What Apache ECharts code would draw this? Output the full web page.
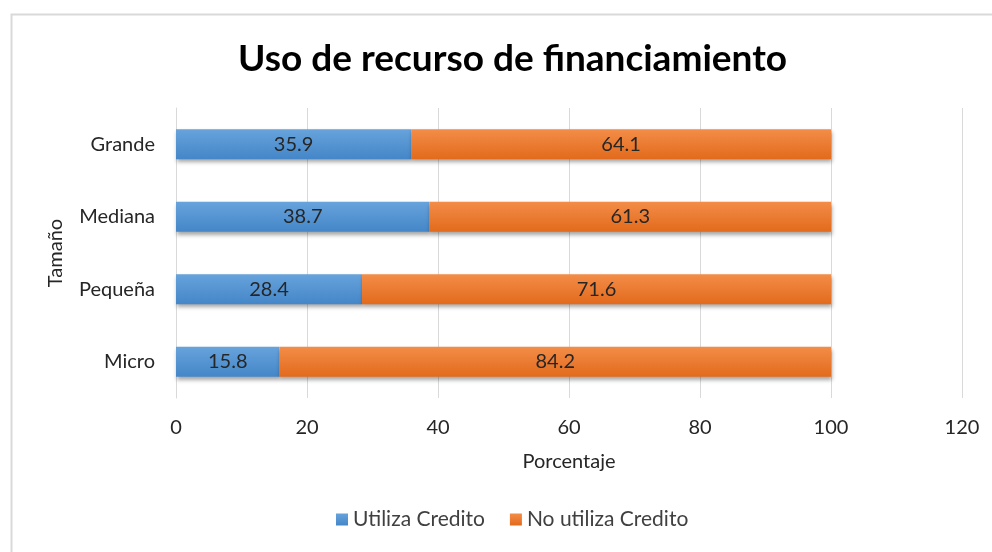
<!DOCTYPE html>
<html>
<head>
<meta charset="utf-8">
<script src="https://cdn.jsdelivr.net/npm/echarts@6/dist/echarts.min.js"></script>
<style>
html,body{margin:0;padding:0;background:#fff;}
#c{width:992px;height:552px;}
</style>
</head>
<body>
<div id="c"></div>
<script>
const categories = ['Micro', 'Pequeña', 'Mediana', 'Grande'];
const utilizaCredito = [15.8, 28.4, 38.7, 35.9];
const noUtilizaCredito = [84.2, 71.6, 61.3, 64.1];
const seriesNames = ['Utiliza Credito', 'No utiliza Credito'];
const xTicks = { min: 0, max: 120, interval: 20 };

const FONT = 'Lato, "Open Sans", sans-serif';
const FS = 20;
const chart = echarts.init(document.getElementById('c'));

function grad(top, bottom) {
  return new echarts.graphic.LinearGradient(0, 0, 0, 1, [
    { offset: 0, color: top },
    { offset: 1, color: bottom }
  ]);
}

const labelStyle = {
  show: true,
  position: 'inside',
  color: '#262626',
  fontSize: FS,
  fontFamily: FONT,
  formatter: p => p.value.toFixed(1)
};

chart.setOption({
  backgroundColor: '#ffffff',
  graphic: [{
    type: 'rect',
    left: 9, top: 12,
    shape: { width: 1000, height: 600 },
    style: { fill: 'none', stroke: '#d9d9d9', lineWidth: 2 },
    silent: true, z: -10
  }],
  title: {
    text: 'Uso de recurso de financiamiento',
    left: 233,
    top: 36,
    textStyle: { fontFamily: FONT, fontWeight: 'bold', fontSize: 37, color: '#000000' }
  },
  legend: {
    data: seriesNames,
    bottom: 17,
    left: 331,
    itemWidth: 12,
    itemHeight: 12,
    itemGap: 25,
    itemTextGap: 7,
    icon: 'rect',
    textStyle: { fontFamily: FONT, fontSize: 21, color: '#404040' }
  },
  grid: { left: 176, right: 30, top: 108, bottom: 154, containLabel: false },
  xAxis: {
    type: 'value',
    min: xTicks.min, max: xTicks.max, interval: xTicks.interval,
    name: 'Porcentaje',
    nameLocation: 'middle',
    nameGap: 54,
    nameTextStyle: { fontFamily: FONT, fontSize: FS, color: '#262626' },
    axisLine: { show: false },
    axisTick: { show: false },
    axisLabel: { fontFamily: FONT, fontSize: FS, color: '#262626', margin: 20 },
    splitLine: { show: true, lineStyle: { color: '#d9d9d9', width: 1 } }
  },
  yAxis: {
    type: 'category',
    data: categories,
    name: 'Tamaño',
    nameLocation: 'middle',
    nameGap: 110,
    nameRotate: 90,
    nameTextStyle: { fontFamily: FONT, fontSize: FS, color: '#262626' },
    axisLine: { show: true, lineStyle: { color: '#d9d9d9', width: 1 } },
    axisTick: { show: false },
    axisLabel: { fontFamily: FONT, fontSize: FS, color: '#262626', margin: 21 }
  },
  series: [
    {
      name: seriesNames[0],
      type: 'bar',
      stack: 'total',
      barWidth: 30,
      data: utilizaCredito,
      label: labelStyle,
      itemStyle: {
        color: grad('#67a3dc', '#4486c8'),
        shadowColor: 'rgba(0,0,0,0.35)', shadowBlur: 4, shadowOffsetY: 3, shadowOffsetX: 1
      }
    },
    {
      name: seriesNames[1],
      type: 'bar',
      stack: 'total',
      barWidth: 30,
      data: noUtilizaCredito,
      label: labelStyle,
      itemStyle: {
        color: grad('#f38d48', '#e26a1c'),
        shadowColor: 'rgba(0,0,0,0.35)', shadowBlur: 4, shadowOffsetY: 3, shadowOffsetX: 1
      }
    }
  ]
});
</script>
</body>
</html>
